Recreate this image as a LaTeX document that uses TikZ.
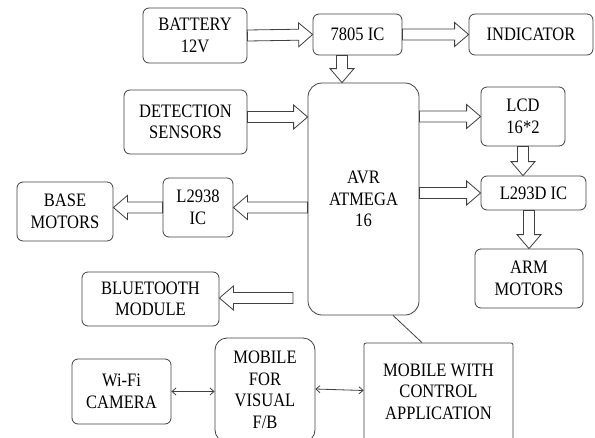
\documentclass[tikz,border=0pt]{standalone}
\usepackage{fontspec}
\setmainfont{Liberation Serif}[FakeStretch=0.87]
\usetikzlibrary{calc,arrows.meta}
\newcommand{\blockarrow}[2]{%
  \coordinate (neck) at ($(#2)!14pt!(#1)$);
  \draw[hollow] ($(#1)!5.5pt!90:(#2)$) -- ($(neck)!5.5pt!90:(#2)$) -- ($(neck)!12pt!90:(#2)$) -- (#2)
    -- ($(neck)!12pt!-90:(#2)$) -- ($(neck)!5.5pt!-90:(#2)$) -- ($(#1)!5.5pt!-90:(#2)$) -- cycle;}
\begin{document}
\begin{tikzpicture}[x=1pt,y=-1pt,
    box/.style={draw=black!75,line width=0.8pt,rounded corners=6pt,align=center,inner sep=0pt,
      font=\fontsize{19}{21.5}\selectfont},
    hollow/.style={draw=black!75,line width=0.8pt,fill=white,line join=miter},
    link/.style={draw=black!75,line width=0.8pt}]
      \useasboundingbox (0,0) rectangle (595,437);
      \clip (0,0) rectangle (595,437);
      \node[box,minimum width=104pt,minimum height=55pt] (bat) at (195,35.5) {BATTERY\\12V};
      \node[box,minimum width=89pt,minimum height=41pt] (ic) at (357.5,34.5) {7805 IC};
      \node[box,minimum width=124pt,minimum height=41pt] (ind) at (531,34.5) {INDICATOR};
      \node[box,minimum width=123pt,minimum height=64pt] (det) at (185.5,122) {DETECTION\\SENSORS};
      \node[box,rounded corners=14pt,minimum width=111pt,minimum height=232pt] (avr) at (363.5,199) {AVR\\ATMEGA\\16};
      \node[box,minimum width=84pt,minimum height=59pt] (lcd) at (523,116.5) {LCD\\16*2};
      \node[box,minimum width=105pt,minimum height=34pt] (l293) at (533.5,193) {L293D IC};
      \node[box,minimum width=108pt,minimum height=59pt] (arm) at (529,278.5) {ARM\\MOTORS};
      \node[box,minimum width=70pt,minimum height=59pt] (l2938) at (198,207.5) {L2938\\IC};
      \node[box,minimum width=96pt,minimum height=59pt] (base) at (65,211.5) {BASE\\MOTORS};
      \node[box,minimum width=137pt,minimum height=54pt] (bt) at (150.5,299) {BLUETOOTH\\MODULE};
      \node[box,minimum width=99pt,minimum height=65pt] (cam) at (121.5,391.5) {Wi-Fi\\CAMERA};
      \node[box,rounded corners=12pt,minimum width=100pt,minimum height=104pt] (mobvis) at (265,390) {MOBILE\\FOR\\VISUAL\\F/B};
      \node[box,rounded corners=2pt,minimum width=149pt,minimum height=97pt] (mobctl) at (438.5,391.5) {MOBILE WITH\\CONTROL\\APPLICATION};
      \coordinate (icS) at ([xshift=-15.5pt]ic.south);
      \coordinate (avrN) at (avr.north -| icS);
      \coordinate (detE) at ([yshift=5pt]det.east);
      \coordinate (avrW) at (avr.west |- detE);
      \coordinate (btsrc) at (293,298);
      \coordinate (avrS) at ([xshift=29.5pt]avr.south);
      \coordinate (ctlN) at ([xshift=-16.5pt]mobctl.north);
      \blockarrow{bat.east}{ic.west}
      \blockarrow{ic.east}{ind.west}
      \blockarrow{icS}{avrN}
      \blockarrow{detE}{avrW}
      \blockarrow{avr.east |- lcd.west}{lcd.west}
      \blockarrow{avr.east |- l293.west}{l293.west}
      \blockarrow{lcd.south}{l293.north -| lcd.south}
      \blockarrow{l293.south -| arm.north}{arm.north}
      \blockarrow{avr.west |- l2938.east}{l2938.east}
      \blockarrow{l2938.west}{base.east |- l2938.west}
      \blockarrow{btsrc}{bt.east |- btsrc}
      \draw[link,{Straight Barb[length=4pt,width=7pt]}-{Straight Barb[length=4pt,width=7pt]}] (cam.east) -- (mobvis.west |- cam.east);
      \draw[link,{Straight Barb[length=4pt,width=7pt]}-{Straight Barb[length=4pt,width=7pt]}] ([yshift=1pt]mobvis.east) -- ([yshift=1pt]mobctl.west);
      \draw[link] (avrS) -- (ctlN);
\end{tikzpicture}
\end{document}
